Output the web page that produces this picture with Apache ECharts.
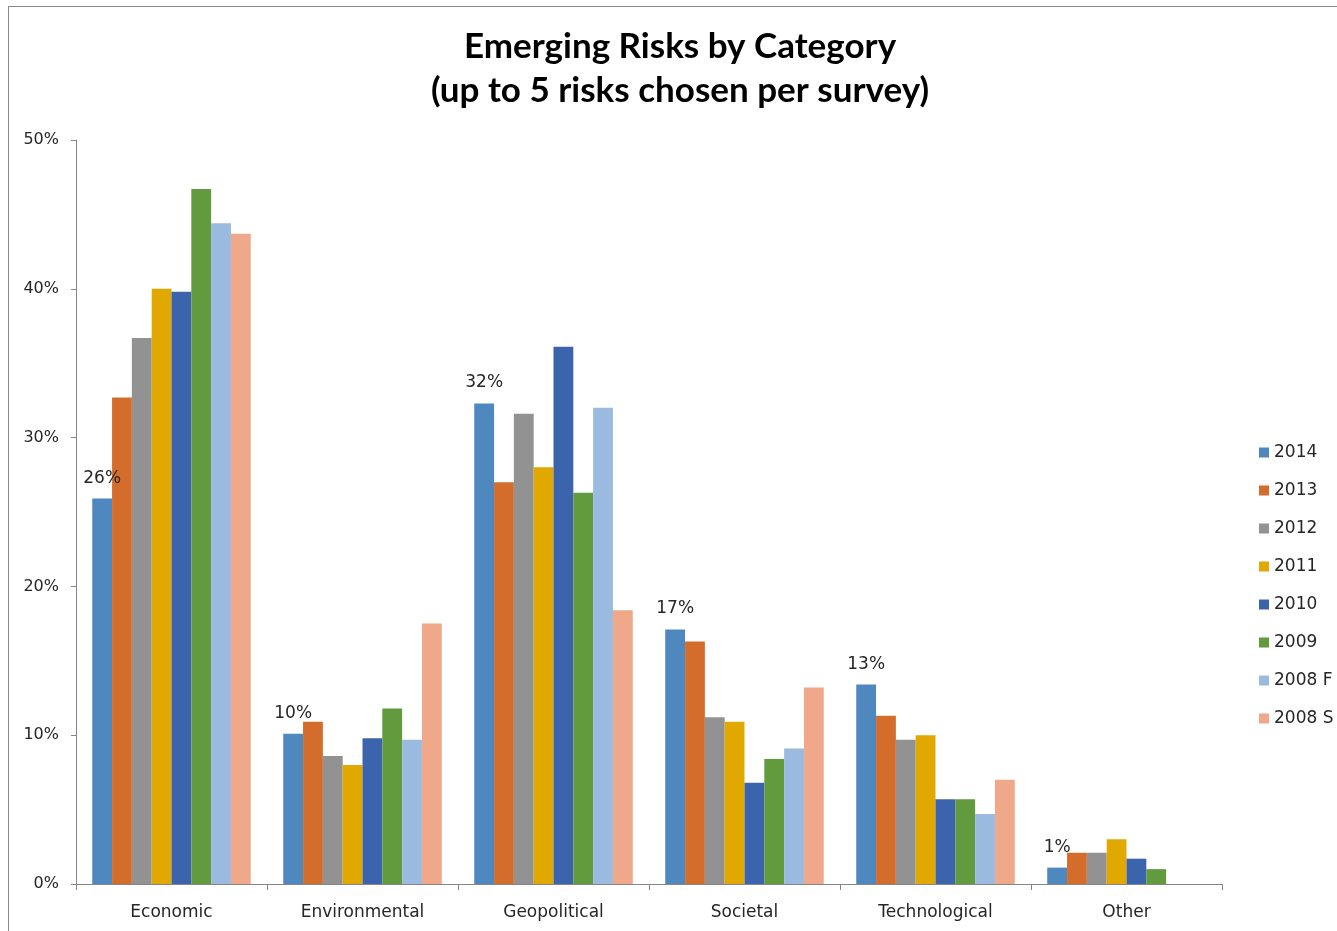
<!DOCTYPE html>
<html>
<head>
<meta charset="utf-8">
<script src="https://cdn.jsdelivr.net/npm/echarts@6/dist/echarts.min.js"></script>
<style>
  html, body { margin: 0; padding: 0; background: #fff; }
  #chart { width: 1337px; height: 931px; position: relative; }
  #frame { position: absolute; left: 8px; top: 6px; width: 1340px; height: 940px;
    border-left: 1px solid #8a8a8a; border-top: 1px solid #8a8a8a; pointer-events: none; }
</style>
</head>
<body>
<div id="chart"></div>
<div id="frame"></div>
<script>
const categories = ['Economic', 'Environmental', 'Geopolitical', 'Societal', 'Technological', 'Other']
const seriesNames = ['2014', '2013', '2012', '2011', '2010', '2009', '2008 F', '2008 S']
const colors = ['#4f88be', '#d46d2b', '#929292', '#e1a900', '#3c64ac', '#629a3e', '#9abae0', '#f0a88a']

// values in percent
const v2014 = [25.9, 10.1, 32.3, 17.1, 13.4, 1.1]
const v2013 = [32.7, 10.9, 27.0, 16.3, 11.3, 2.1]
const v2012 = [36.7, 8.6, 31.6, 11.2, 9.7, 2.1]
const v2011 = [40.0, 8.0, 28.0, 10.9, 10.0, 3.0]
const v2010 = [39.8, 9.8, 36.1, 6.8, 5.7, 1.7]
const v2009 = [46.7, 11.8, 26.3, 8.4, 5.7, 1.0]
const v2008F = [44.4, 9.7, 32.0, 9.1, 4.7, null]
const v2008S = [43.7, 17.5, 18.4, 13.2, 7.0, null]
const values = [v2014, v2013, v2012, v2011, v2010, v2009, v2008F, v2008S]

const yTicks = [0, 10, 20, 30, 40, 50]

const font = 'DejaVu Sans'
const seriesData = seriesNames.map((name, index) => {
  return {
    type: 'bar',
    name: name,
    barGap: '0%',
    barCategoryGap: '17%',
    itemStyle: { color: colors[index] },
    // only the 2014 bars carry a label
    label: {
      show: index === 0,
      position: 'top',
      distance: 12,
      fontFamily: font,
      fontSize: 17,
      color: '#262626',
      formatter: function(params) {
        return Math.round(params.value) + '%'
      }
    },
    data: values[index]
  }
})

const option = {
  animation: false,
  color: colors,
  title: {
    text: 'Emerging Risks by Category\n(up to 5 risks chosen per survey)',
    left: 675,
    top: 20,
    textAlign: 'center',
    textStyle: {
      fontFamily: 'Lato',
      fontWeight: 'bold',
      fontSize: 35,
      lineHeight: 44,
      color: '#000'
    }
  },
  legend: {
    orient: 'vertical',
    left: 1259,
    top: 444,
    padding: 0,
    icon: 'rect',
    itemWidth: 10,
    itemHeight: 10,
    itemGap: 21,
    selectedMode: false,
    textStyle: {
      fontFamily: font,
      fontSize: 17,
      color: '#262626'
    },
    data: seriesNames
  },
  grid: {
    left: 76,
    right: 115,
    top: 140,
    bottom: 47,
    containLabel: false
  },
  xAxis: {
    type: 'category',
    data: categories,
    axisLine: { lineStyle: { color: '#868686', width: 1 } },
    axisTick: { show: true, length: 6, lineStyle: { color: '#868686' } },
    axisLabel: {
      margin: 20,
      fontFamily: font,
      fontSize: 17,
      color: '#262626'
    }
  },
  yAxis: {
    type: 'value',
    min: yTicks[0],
    max: yTicks[yTicks.length - 1],
    interval: 10,
    axisLine: { show: true, lineStyle: { color: '#868686', width: 1 } },
    axisTick: { show: true, length: 5, lineStyle: { color: '#868686' } },
    splitLine: { show: false },
    axisLabel: {
      margin: 17,
      fontFamily: font,
      fontSize: 16,
      color: '#262626',
      formatter: '{value}%'
    }
  },
  series: seriesData
}

const myChart = echarts.init(document.getElementById('chart'), null, { renderer: 'canvas' })
myChart.setOption(option)
window.addEventListener('resize', () => {
  myChart.resize()
})
</script>
</body>
</html>
